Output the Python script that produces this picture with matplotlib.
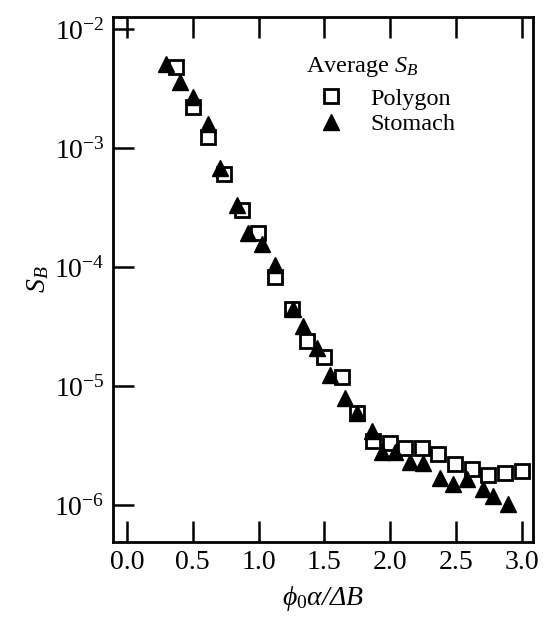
import matplotlib
matplotlib.use("Agg")
import matplotlib.pyplot as plt
from matplotlib.ticker import LogLocator, NullLocator

# Polygon (open squares)
polygon_x = [0.37, 0.50, 0.615, 0.737, 0.873, 0.995, 1.124, 1.25, 1.37, 1.50, 1.63,
             1.75, 1.868, 2.00, 2.11, 2.24, 2.36, 2.49, 2.62, 2.74, 2.87, 3.00]
polygon_sb = [4.8e-3, 2.2e-3, 1.23e-3, 6.0e-4, 3.0e-4, 1.95e-4, 8.3e-5, 4.4e-5, 2.4e-5,
              1.74e-5, 1.18e-5, 5.9e-6, 3.47e-6, 3.33e-6, 3.0e-6, 3.0e-6, 2.7e-6,
              2.2e-6, 2.0e-6, 1.8e-6, 1.85e-6, 1.94e-6]

# Stomach (filled triangles)
stomach_x = [0.296, 0.40, 0.50, 0.615, 0.706, 0.835, 0.92, 1.025, 1.124, 1.26, 1.34,
             1.44, 1.54, 1.655, 1.75, 1.86, 1.94, 2.035, 2.15, 2.25, 2.38, 2.475,
             2.58, 2.70, 2.78, 2.89]
stomach_sb = [5.07e-3, 3.6e-3, 2.7e-3, 1.58e-3, 6.8e-4, 3.3e-4, 1.95e-4, 1.55e-4,
              1.05e-4, 4.4e-5, 3.2e-5, 2.1e-5, 1.23e-5, 7.9e-6, 5.9e-6, 4.2e-6,
              2.8e-6, 2.8e-6, 2.3e-6, 2.25e-6, 1.7e-6, 1.5e-6, 1.66e-6, 1.36e-6,
              1.2e-6, 1.02e-6]

x_ticks = [0.0, 0.5, 1.0, 1.5, 2.0, 2.5, 3.0]

plt.rcParams["font.family"] = ["Liberation Serif", "DejaVu Serif"]
plt.rcParams["mathtext.fontset"] = "custom"
plt.rcParams["mathtext.rm"] = "Liberation Serif"
plt.rcParams["mathtext.it"] = "Liberation Serif:italic"
plt.rcParams["mathtext.bf"] = "Liberation Serif:bold"

fig = plt.figure(figsize=(5.45, 6.28), dpi=100)
ax = fig.add_axes([0.2073, 0.1369, 0.7706, 0.836])

ax.plot(polygon_x, polygon_sb, linestyle="none", marker="s", markersize=10.5,
        markerfacecolor="white", markeredgecolor="black", markeredgewidth=2.0,
        label="Polygon", zorder=3)
ax.plot(stomach_x, stomach_sb, linestyle="none", marker="^", markersize=11.5,
        color="black", label="Stomach", zorder=4)

ax.set_yscale("log")
ax.set_xlim(-0.106, 3.083)
ax.set_ylim(10 ** -6.311, 10 ** -1.899)
ax.set_xticks(x_ticks)
ax.set_xticklabels([f"{v:.1f}" for v in x_ticks])
ax.yaxis.set_major_locator(LogLocator(base=10, numticks=10))
ax.yaxis.set_minor_locator(NullLocator())

ax.tick_params(axis="both", which="major", direction="in", length=15, width=1.8,
               labelsize=20, pad=6)
ax.tick_params(axis="x", top=True)
ax.tick_params(axis="y", right=False)
for s in ax.spines.values():
    s.set_linewidth(2.0)

ax.set_xlabel("ϕ$_0$α/ΔB", fontsize=20, style="italic", labelpad=6)
ax.set_ylabel("S$_B$", fontsize=20, style="italic", labelpad=2)

leg = ax.legend(title="Average $S_B$", loc="upper left", bbox_to_anchor=(0.43, 0.95),
                frameon=False, fontsize=17.5, title_fontsize=17.5, handlelength=2.1,
                handletextpad=0.55, borderpad=0, labelspacing=0.15, alignment="left")
leg._legend_box.sep = 6

fig.savefig("out.png", dpi=100)
